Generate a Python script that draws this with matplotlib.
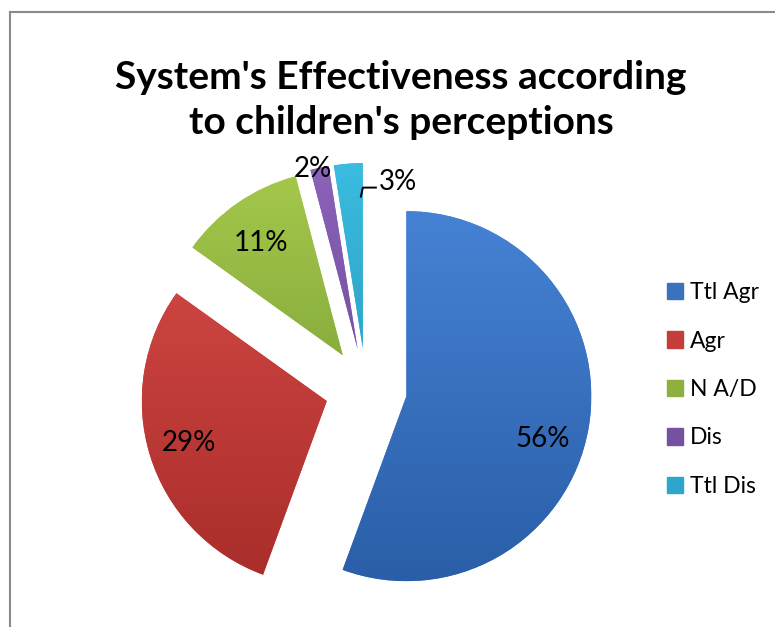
import numpy as np
import matplotlib
matplotlib.use("Agg")
import matplotlib.pyplot as plt
from matplotlib.colors import LinearSegmentedColormap
from matplotlib.lines import Line2D

# ---- data ----
categories = ["Ttl Agr", "Agr", "N A/D", "Dis", "Ttl Dis"]
values = [55.6, 29.3, 11.0, 1.6, 2.5]
pct_labels = ["56%", "29%", "11%", "2%", "3%"]
title = "System's Effectiveness according\nto children's perceptions"

# ---- styles ----
light = ["#4682D4", "#D64A46", "#A5C84B", "#8B63BA", "#3BBCE0"]
dark = ["#2A5EA8", "#A82D2A", "#6E9431", "#62418A", "#1F8EB0"]
legend_col = ["#3A72C0", "#C43D3A", "#8DB03E", "#74529F", "#2CA6CB"]
# label placement: (distance as fraction of radius, angle offset in deg)
label_place = [(0.77, -7.4), (0.78, -0.3), (0.75, 1.8), (1.0, 2.0), (0.92, -16.4)]

W, H = 775, 627
fig = plt.figure(figsize=(W / 100, H / 100), dpi=100)
ax = fig.add_axes([0, 0, 1, 1])
cx, cy, R = 366, H - 389, 185
explode = [41] * len(values)   # pie explode is in data units (pixels here)

wedges, _ = ax.pie(values, explode=explode, startangle=90, counterclock=False,
                   radius=R, center=(cx, cy), colors=light,
                   wedgeprops=dict(linewidth=0))
ax.set_xlim(0, W)
ax.set_ylim(0, H)
ax.set_aspect("equal")
ax.axis("off")

for i, w in enumerate(wedges):
    cmap = LinearSegmentedColormap.from_list("g%d" % i, [light[i], dark[i]])
    wcx, wcy = w.center
    grad = np.linspace(0, 1, 256).reshape(-1, 1)
    im = ax.imshow(grad, cmap=cmap, extent=(wcx - R, wcx + R, wcy - R, wcy + R),
                   origin="upper", aspect="auto", zorder=w.get_zorder() + 0.1)
    im.set_clip_path(w)
    # label
    mid = np.deg2rad((w.theta1 + w.theta2) / 2 + label_place[i][1])
    d = label_place[i][0] * R
    lx, ly = wcx + d * np.cos(mid), wcy + d * np.sin(mid)
    ax.text(lx, ly, pct_labels[i], ha="center", va="center", fontsize=20,
            family="Lato", color="black", zorder=5)
    if i == 4:
        ax.add_line(Line2D([lx - 37, lx - 35, lx - 22], [ly - 15, ly - 6, ly - 6],
                           color="black", lw=1.4, zorder=5))

ax.set_xlim(0, W)
ax.set_ylim(0, H)

fig.text(401 / W, 1 - 100 / H, title, ha="center", va="center", fontsize=28,
         fontweight="bold", family="Lato", linespacing=1.35)

handles = [plt.Rectangle((0, 0), 1, 1, color=c) for c in legend_col]
fig.legend(handles, categories, loc="upper left", bbox_to_anchor=(667 / W, 1 - 282 / H),
           frameon=False, prop=dict(family="Lato", size=16.5), handlelength=0.7,
           handleheight=0.7, handletextpad=0.3, labelspacing=1.2, borderaxespad=0,
           borderpad=0)

# frame lines
fig.add_artist(Line2D([10 / W, 10 / W], [0, 1 - 12 / H], color="#8a8a8a", lw=1.5))
fig.add_artist(Line2D([10 / W, 1], [1 - 12 / H, 1 - 12 / H], color="#8a8a8a", lw=1.5))

fig.savefig("out.png", dpi=100)
